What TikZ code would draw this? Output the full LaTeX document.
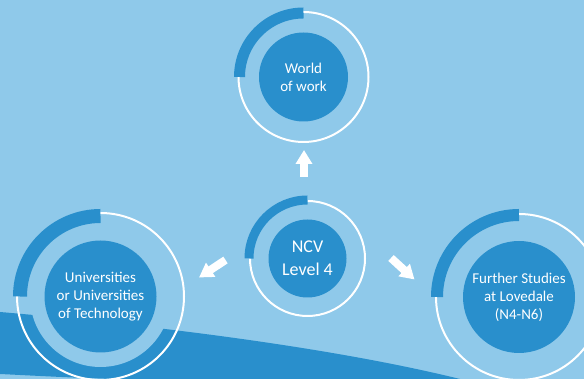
\documentclass[tikz,border=0pt]{standalone}
\usepackage{fontspec}
\setmainfont{Carlito}
\usetikzlibrary{arrows.meta}
\definecolor{skyblue}{RGB}{143,201,234}
\definecolor{deepblue}{RGB}{41,143,204}

\begin{document}
\begin{tikzpicture}[x=1pt, y=1pt]
  \tikzstyle{hub}=[circle, fill=deepblue, text=white, align=center, inner sep=0pt]
  \tikzstyle{ring}=[draw=white, line width=2pt]
  \tikzstyle{band}=[draw=deepblue]
  \tikzstyle{go}=[draw=white, line width=8pt, -{Triangle[width=16pt,length=14pt]}]

  \useasboundingbox (0,0) rectangle (584,379);
  \clip (0,0) rectangle (584,379);
  \fill[skyblue] (0,0) rectangle (584,379);

  % wave at the bottom
  \fill[deepblue] (0,67) .. controls (150,54) and (330,32) .. (460,0)
    -- (110,0) .. controls (60,2) .. (0,5) -- cycle;

  \foreach \name/\x/\y/\ring/\arcr/\arcw/\disc/\fs/\bs/\txt in {
      work/303.5/302/65/64/11/44.5/15/18/World\\of work,
      ncv/307.5/120.5/57.5/58.5/9/39/18/23/NCV\\Level 4,
      univ/100.5/82.5/83.5/80.5/14/56/15/18/Universities\\or Universities\\of Technology,
      further/519/82/83/82/12/56/15/18/Further Studies\\at Lovedale\\(N4-N6)}
  {
    \fill[skyblue] (\x,\y) circle[radius=\ring-13];
    \draw[ring] (\x,\y) circle[radius=\ring];
    \draw[band, line width=\arcw] (\x,\y) ++(90:\arcr)
      arc[start angle=90, end angle=180, radius=\arcr];
    \node[hub, minimum size=2*\disc, font=\fontsize{\fs}{\bs}\selectfont]
      (\name) at (\x,\y) {\txt};
  }

  \foreach \name/\x/\y in {up-tail/304/202, up-tip/304/229,
      left-tail/225.5/119, left-tip/199/101.5,
      right-tail/391/121, right-tip/414.5/99.5}
    \coordinate (\name) at (\x,\y);

  \draw[go] (up-tail) -- (up-tip);
  \draw[go] (left-tail) -- (left-tip);
  \draw[go] (right-tail) -- (right-tip);
\end{tikzpicture}
\end{document}
